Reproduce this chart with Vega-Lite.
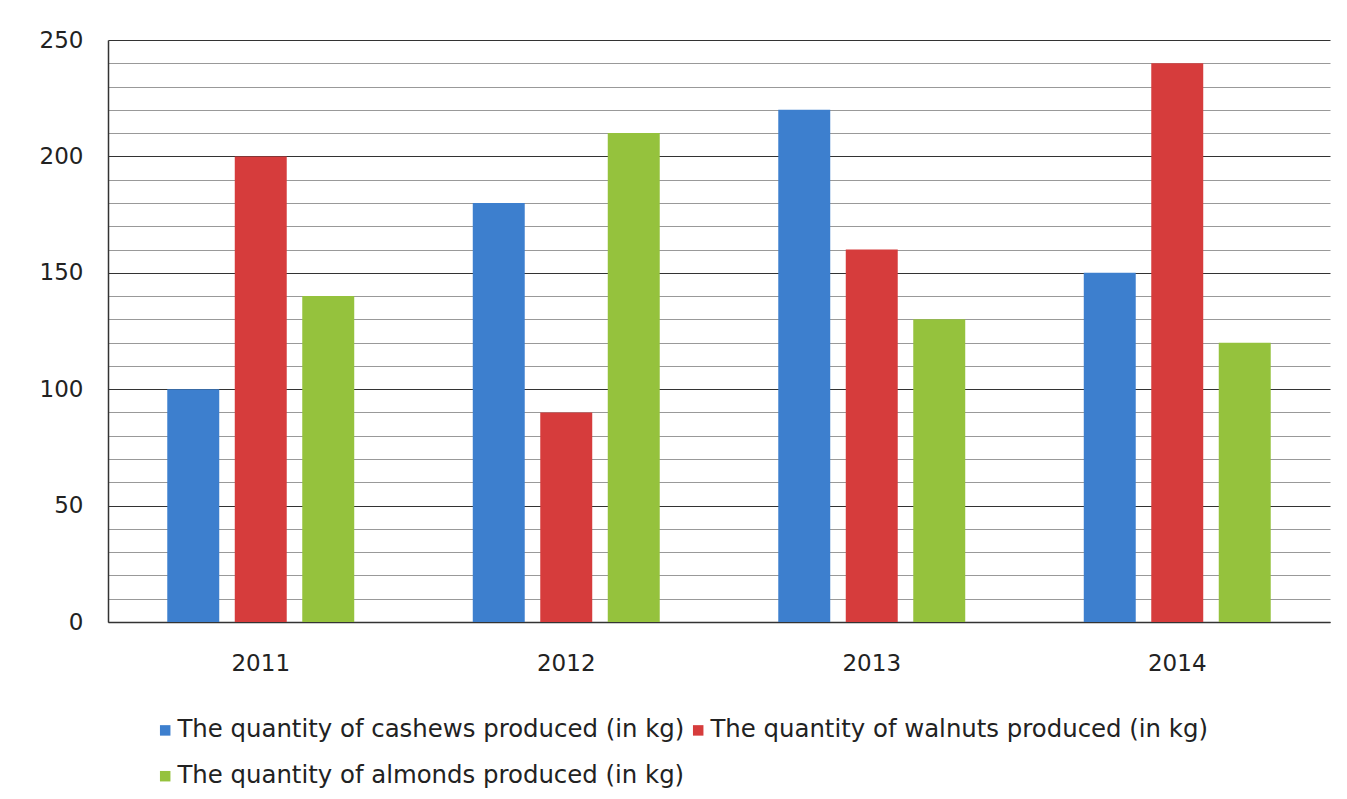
{
  "$schema": "https://vega.github.io/schema/vega-lite/v6.json",
  "autosize": {"type": "none"},
  "width": 1222,
  "height": 582,
  "padding": {"left": 108, "top": 40, "right": 17, "bottom": 177},
  "background": "white",
  "config": {
    "view": {"stroke": null},
    "font": "DejaVu Sans"
  },
  "data": {
    "values": [
      {"year": "2011", "series": "The quantity of cashews produced (in kg)", "value": 100},
      {"year": "2011", "series": "The quantity of walnuts produced (in kg)", "value": 200},
      {"year": "2011", "series": "The quantity of almonds produced (in kg)", "value": 140},
      {"year": "2012", "series": "The quantity of cashews produced (in kg)", "value": 180},
      {"year": "2012", "series": "The quantity of walnuts produced (in kg)", "value": 90},
      {"year": "2012", "series": "The quantity of almonds produced (in kg)", "value": 210},
      {"year": "2013", "series": "The quantity of cashews produced (in kg)", "value": 220},
      {"year": "2013", "series": "The quantity of walnuts produced (in kg)", "value": 160},
      {"year": "2013", "series": "The quantity of almonds produced (in kg)", "value": 130},
      {"year": "2014", "series": "The quantity of cashews produced (in kg)", "value": 150},
      {"year": "2014", "series": "The quantity of walnuts produced (in kg)", "value": 240},
      {"year": "2014", "series": "The quantity of almonds produced (in kg)", "value": 120}
    ]
  },
  "mark": {"type": "bar"},
  "encoding": {
    "x": {
      "field": "year", "type": "nominal", "title": null,
      "scale": {"paddingInner": 0.388, "paddingOuter": 0.194},
      "axis": {
        "labelAngle": 0, "ticks": false, "domainColor": "#333", "domainWidth": 1.5,
        "labelFontSize": 23, "labelColor": "#222", "labelPadding": 30, "grid": false
      }
    },
    "xOffset": {
      "field": "series", "type": "nominal",
      "sort": ["The quantity of cashews produced (in kg)", "The quantity of walnuts produced (in kg)", "The quantity of almonds produced (in kg)"],
      "scale": {"paddingInner": 0.23, "paddingOuter": 0}
    },
    "y": {
      "field": "value", "type": "quantitative", "title": null,
      "scale": {"domain": [0, 250], "nice": false},
      "axis": {
        "values": [0,10,20,30,40,50,60,70,80,90,100,110,120,130,140,150,160,170,180,190,200,210,220,230,240,250],
        "labelExpr": "datum.value % 50 === 0 ? datum.label : ''",
        "ticks": false, "domainColor": "#333", "domainWidth": 1.5,
        "labelFontSize": 23, "labelColor": "#222", "labelPadding": 25,
        "grid": true,
        "gridColor": {"condition": {"test": "datum.value % 50 === 0", "value": "#333"}, "value": "#999"},
        "gridWidth": 1
      }
    },
    "color": {
      "field": "series", "type": "nominal", "title": null,
      "sort": ["The quantity of cashews produced (in kg)", "The quantity of walnuts produced (in kg)", "The quantity of almonds produced (in kg)"],
      "scale": {"range": ["#3d7fce", "#d63c3c", "#95c23d"]},
      "legend": {
        "orient": "none", "legendX": 45, "legendY": 678,
        "direction": "horizontal", "columns": 2,
        "symbolType": "square", "symbolSize": 110, "symbolStrokeWidth": 0,
        "labelFontSize": 24.4, "labelColor": "#222", "labelLimit": 800,
        "columnPadding": 1, "rowPadding": 21, "labelOffset": 0
      }
    }
  }
}
